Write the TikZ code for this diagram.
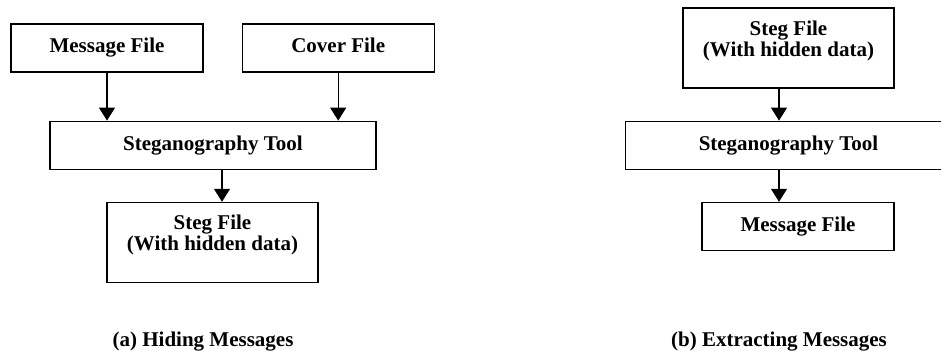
\documentclass[tikz,border=0pt]{standalone}
\usepackage{fontspec}
\setmainfont{Liberation Serif}
\usetikzlibrary{positioning,arrows.meta}

\begin{document}
\begin{tikzpicture}[
    node distance=16pt,  % gap between stacked boxes
    box/.style = {draw, line width=0.6pt, minimum height=24pt, inner sep=2pt, align=center,
                  text height=7.5pt, text depth=2.5pt,
                  font=\fontsize{10.5}{10.5}\selectfont\bfseries},
    tall/.style = {box, text height=, text depth=, minimum width=105.5pt, minimum height=40pt},
    subcap/.style = {font=\fontsize{10.5}{10.5}\selectfont\bfseries},
    flow/.style = {-{Triangle[width=8pt,length=6.5pt]}, line width=0.6pt}
  ]
    \useasboundingbox (0,0) rectangle (470.5pt,175.5pt);

    % (a) hiding
    \node[box, minimum width=96pt] (msgA) at (53.5pt,151.5pt) {Message File};
    \node[box, minimum width=96pt] (cover) [right=19pt of msgA] {Cover File};
    \node[box, minimum width=163pt] (toolA) [below=24pt of msgA, xshift=53pt] {Steganography Tool};  % tool sits right of msgA
    \node[tall] (stegA) [below=of toolA, xshift=-0.25pt] {Steg File\\(With hidden data)\\[-1pt]~};
    \node[subcap] (capA) at (101.5pt,4.5pt) {(a) Hiding Messages};

    \draw[flow] (msgA) -- (msgA |- toolA.north);
    \draw[flow] (cover) -- (cover |- toolA.north);
    \draw[flow] ([xshift=4.5pt]toolA.south) -- ([xshift=4.5pt]toolA.south |- stegA.north);

    % (b) extracting
    \node[tall] (stegB) at (394.25pt,151.5pt) {Steg File\\(With hidden data)\\[-1pt]~};
    \node[box, minimum width=163pt] (toolB) [below=of stegB] {Steganography Tool};
    \node[box, minimum width=96pt] (msgB) [below=of toolB, xshift=4.75pt] {Message File};  % nudge right a bit
    \node[subcap] (capB) at (389.5pt,4.5pt) {(b) Extracting Messages};

    \draw[flow] ([xshift=-4.75pt]stegB.south) -- ([xshift=-4.75pt]stegB.south |- toolB.north);
    \draw[flow] ([xshift=-4.75pt]toolB.south) -- ([xshift=-4.75pt]toolB.south |- msgB.north);
\end{tikzpicture}
\end{document}
